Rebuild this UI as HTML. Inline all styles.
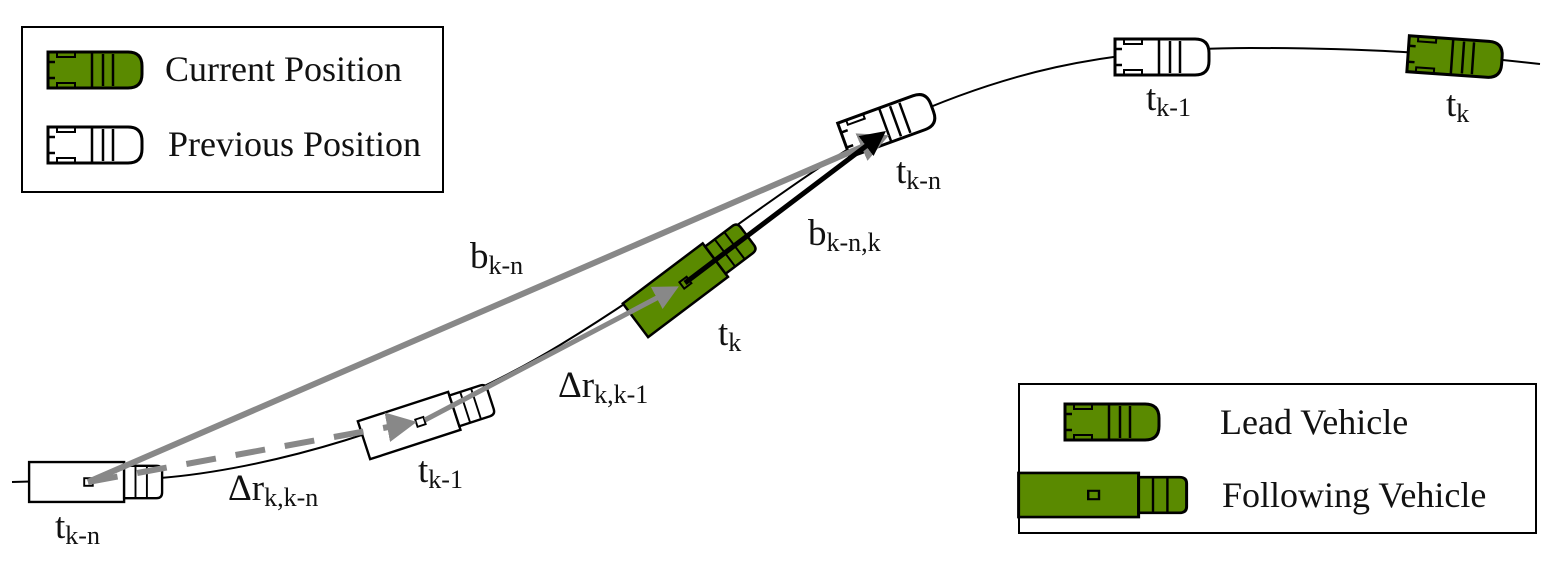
<!DOCTYPE html>
<html><head><meta charset="utf-8"><style>
html,body{margin:0;padding:0;background:#fff}
svg{display:block}
text{font-family:"Liberation Serif",serif;fill:#111}
</style></head><body>
<svg width="1554" height="564" viewBox="0 0 1554 564">
<defs>
<g id="car">
<path d="M-47,-18 H33 Q47,-18 47,-4 V4 Q47,18 33,18 H-47 Z" stroke="#000" stroke-width="3"/>
<path d="M-3,-18 V18 M8,-16 V16 M18,-16 V16 M-47,-8 H-40 M-47,8 H-40" stroke="#000" stroke-width="2.5" fill="none"/>
<path d="M-38,-18 V-13 H-20 V-18 M-38,18 V13 H-20 V18" stroke="#000" stroke-width="2" fill="none"/>
</g>
<g id="truck">
<rect x="-62" y="-21" width="100" height="42" stroke="#000" stroke-width="2.5"/>
<path d="M38,-17 H72 Q78,-17 78,-11 V11 Q78,17 72,17 H38 Z" stroke="#000" stroke-width="2.5"/>
<path d="M50,-17 V17 M62,-17 V17" stroke="#000" stroke-width="2" fill="none"/>
<rect x="-4" y="-4" width="9" height="8" fill="none" stroke="#000" stroke-width="2"/>
</g>
<marker id="ag" markerWidth="5" markerHeight="5" refX="3" refY="2.5" orient="auto" markerUnits="strokeWidth"><path d="M0,0 L5,2.5 L0,5 Z" fill="#888"/></marker>
<marker id="ab" markerWidth="5" markerHeight="5" refX="3" refY="2.5" orient="auto" markerUnits="strokeWidth"><path d="M0,0 L5,2.5 L0,5 Z" fill="#000"/></marker>
</defs>

<path d="M12,482 L160,478 C260,470 420,430 560,345 C700,260 800,170 900,120 C1000,75 1100,48 1250,48 C1380,48 1460,55 1540,64" fill="none" stroke="#000" stroke-width="2"/>

<g transform="translate(1162,57)"><use href="#car" fill="#fff"/></g>
<g transform="translate(1455,57) rotate(4)"><use href="#car" fill="#5a8a00"/></g>
<g transform="translate(888,124) rotate(-20)"><use href="#car" fill="#fff"/></g>

<g transform="translate(88,482) scale(0.95)"><use href="#truck" fill="#fff"/></g>
<g transform="translate(420,422) rotate(-18) scale(0.95)"><use href="#truck" fill="#fff"/></g>
<g transform="translate(685,283) rotate(-37) scale(1)"><use href="#truck" fill="#5a8a00"/></g>

<line x1="88" y1="482" x2="878" y2="140" stroke="#888" stroke-width="6" marker-end="url(#ag)"/>
<line x1="88" y1="482" x2="405" y2="424" stroke="#888" stroke-width="6" stroke-dasharray="30,20" marker-end="url(#ag)"/>
<line x1="425" y1="420" x2="670" y2="291" stroke="#888" stroke-width="5" marker-end="url(#ag)"/>
<line x1="685" y1="283" x2="878" y2="137" stroke="#000" stroke-width="5" marker-end="url(#ab)"/>

<g font-size="37">
<text x="55" y="538">t<tspan font-size="26" dy="6">k-n</tspan></text>
<text x="228" y="500">Δr<tspan font-size="26" dy="6">k,k-n</tspan></text>
<text x="418" y="482">t<tspan font-size="26" dy="6">k-1</tspan></text>
<text x="558" y="397">Δr<tspan font-size="26" dy="6">k,k-1</tspan></text>
<text x="718" y="345">t<tspan font-size="26" dy="6">k</tspan></text>
<text x="470" y="268">b<tspan font-size="26" dy="6">k-n</tspan></text>
<text x="808" y="245">b<tspan font-size="26" dy="6">k-n,k</tspan></text>
<text x="896" y="183">t<tspan font-size="26" dy="6">k-n</tspan></text>
<text x="1146" y="110">t<tspan font-size="26" dy="6">k-1</tspan></text>
<text x="1446" y="116">t<tspan font-size="26" dy="6">k</tspan></text>
</g>

<g>
<rect x="22" y="27" width="421" height="165" fill="#fff" stroke="#000" stroke-width="2"/>
<g transform="translate(95,70)"><use href="#car" fill="#5a8a00"/></g>
<g transform="translate(95,145)"><use href="#car" fill="#fff"/></g>
<text x="165" y="81" font-size="36">Current Position</text>
<text x="168" y="156" font-size="36">Previous Position</text>
</g>

<g>
<rect x="1019" y="384" width="517" height="149" fill="#fff" stroke="#000" stroke-width="2"/>
<g transform="translate(1112,422)"><use href="#car" fill="#5a8a00"/></g>
<g transform="translate(1093,495) scale(1.2,1.05)"><use href="#truck" fill="#5a8a00"/></g>
<text x="1220" y="434" font-size="36">Lead Vehicle</text>
<text x="1222" y="507" font-size="36">Following Vehicle</text>
</g>
</svg>
</body></html>
